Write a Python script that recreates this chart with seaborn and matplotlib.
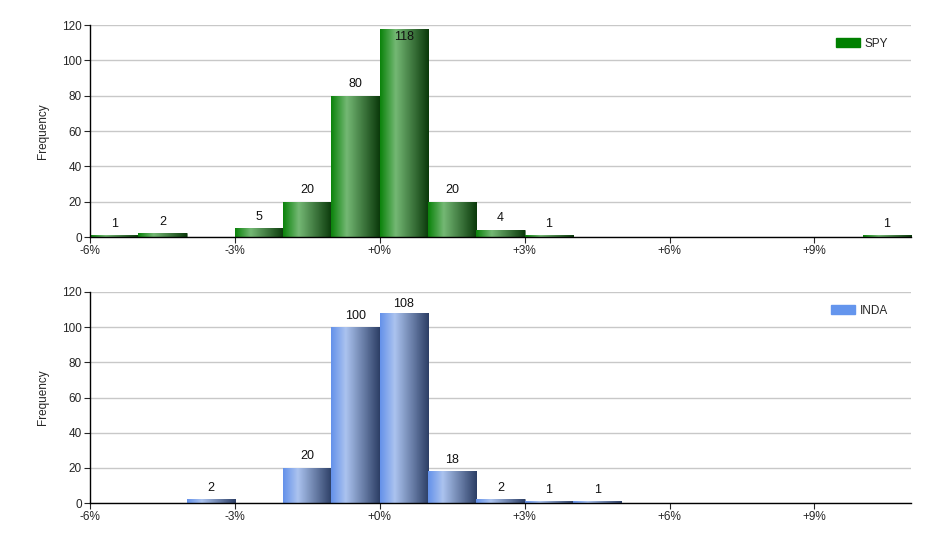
import matplotlib
matplotlib.use('Agg')
import matplotlib.pyplot as plt
from matplotlib.colors import LinearSegmentedColormap
from matplotlib.patches import Patch
import numpy as np
import pandas as pd
import seaborn as sns

# bin left edges (% return) and counts
spy_bins = [-6, -5, -3, -2, -1, 0, 1, 2, 3, 10]
spy_counts = [1, 2, 5, 20, 80, 118, 20, 4, 1, 1]
inda_bins = [-4, -2, -1, 0, 1, 2, 3, 4]
inda_counts = [2, 20, 100, 108, 18, 2, 1, 1]
xticks = [-6, -3, 0, 3, 6, 9]
yticks = [0, 20, 40, 60, 80, 100, 120]

sns.set_style('white')
plt.rcParams['font.family'] = ['Liberation Sans', 'DejaVu Sans']

fig = plt.figure(figsize=(9.4, 5.5), dpi=100)
ax1 = fig.add_axes([90/940, 1-237/550, 821/940, 212/550])
ax2 = fig.add_axes([90/940, 1-503/550, 821/940, 211/550])

green = LinearSegmentedColormap.from_list('g', [(0, '#0c840c'), (0.32, '#74b874'), (1, '#0b3a0b')])
blue = LinearSegmentedColormap.from_list('b', [(0, '#6592ea'), (0.3, '#abc3ef'), (1, '#2d3f66')])


def hist(ax, bins, counts, name, legend_color, cmap):
    df = pd.DataFrame({'x': np.array(bins) + 0.5, 'n': counts})
    sns.histplot(data=df, x='x', weights='n', bins=list(range(-6, 12)), ax=ax,
                 color=legend_color, alpha=1, edgecolor='#606060', linewidth=0.4, zorder=2)
    grad = np.linspace(0, 1, 64).reshape(1, -1)
    for p in list(ax.patches):
        h = p.get_height()
        if h <= 0:
            continue
        x0 = p.get_x()
        im = ax.imshow(grad, cmap=cmap, aspect='auto', extent=(x0, x0 + p.get_width(), 0, h),
                       zorder=2.5)
        im.set_clip_path(p)
    for b, c in zip(bins, counts):
        ax.text(b + 0.5, min(c + 6.5, 113), str(c), ha='center', va='center', fontsize=9, color='#111111')
    ax.set_xlim(-6, 11)
    ax.set_ylim(0, 120)
    ax.set_xticks(xticks)
    ax.set_xticklabels([f'{t:+d}%' if t != 0 else '+0%' for t in xticks])
    ax.set_yticks(yticks)
    ax.tick_params(axis='both', labelsize=8.5, length=4, width=0.8, direction='out', pad=2,
                   bottom=True, left=True)
    ax.grid(axis='y', color='#c8c8c8', linewidth=1)
    ax.set_axisbelow(True)
    sns.despine(ax=ax)
    for s in ['left', 'bottom']:
        ax.spines[s].set_color('black')
        ax.spines[s].set_linewidth(1)
    ax.set_xlabel('')
    ax.set_ylabel('Frequency', fontsize=8.5, labelpad=9)
    ax.legend(handles=[Patch(color=legend_color, label=name)], loc='upper right',
              bbox_to_anchor=(0.985, 0.99), frameon=False, fontsize=8.5,
              handlelength=2.0, handleheight=0.8, handletextpad=0.4)


hist(ax1, spy_bins, spy_counts, 'SPY', '#008000', green)
hist(ax2, inda_bins, inda_counts, 'INDA', '#6495ed', blue)

fig.savefig('out.png', dpi=100)
